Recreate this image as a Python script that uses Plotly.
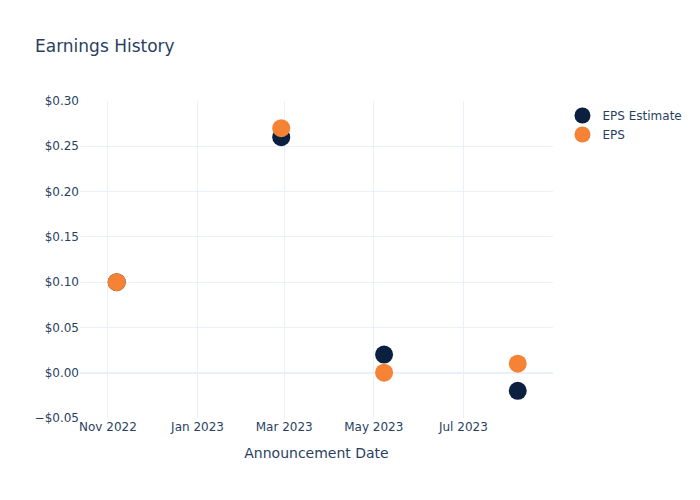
import plotly.graph_objects as go

dates = ["2022-11-07", "2023-02-27", "2023-05-08", "2023-08-07"]
eps_estimate = [0.10, 0.26, 0.02, -0.02]
eps_actual = [0.10, 0.27, 0.00, 0.01]

fig = go.Figure()
fig.add_trace(go.Scatter(x=dates, y=eps_estimate, mode="markers", name="EPS Estimate",
                         marker=dict(color="#0b1f3f", size=18)))
fig.add_trace(go.Scatter(x=dates, y=eps_actual, mode="markers", name="EPS",
                         marker=dict(color="#f58235", size=18)))
fig.update_layout(
    template="plotly_white",
    width=700, height=500,
    font=dict(family="DejaVu Sans"),
    title=dict(text="Earnings History", x=0.05, y=0.92),
    xaxis=dict(title="Announcement Date", range=["2022-10-13", "2023-08-31"],
               tickformat="%b %Y", dtick="M2", tick0="2022-11-01"),
    yaxis=dict(range=[-0.05, 0.30], tickformat="$.2f", dtick=0.05),
    margin=dict(l=80, r=147, t=101, b=82),
    legend=dict(x=1.02, y=1.0),
)
fig.write_html("out.html")
